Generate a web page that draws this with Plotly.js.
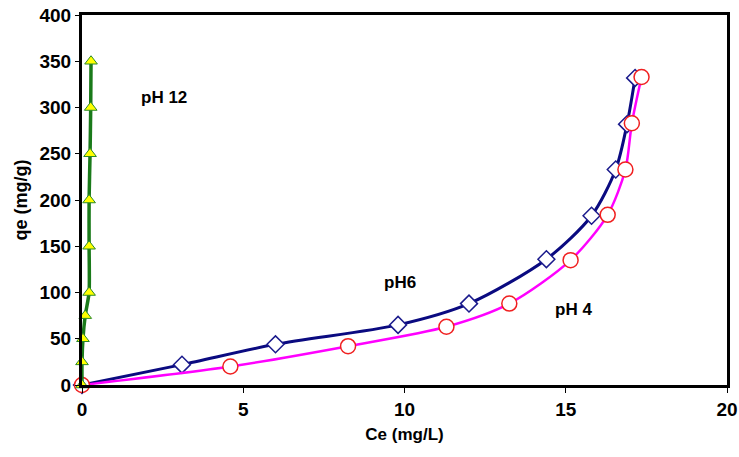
<!DOCTYPE html>
<html>
<head>
<meta charset="utf-8">
<script src="https://cdn.plot.ly/plotly-3.0.1.min.js"></script>
<style>html,body{margin:0;padding:0;background:#fff;}#chart{width:739px;height:457px;}</style>
</head>
<body>
<div id="chart"></div>
<script>
// pH 6 series (diamonds)
const ph6Ce = [0, 3.1, 6.0, 9.8, 12.0, 14.4, 15.8, 16.55, 16.9, 17.15];
const ph6Qe = [0, 22, 44, 65, 88, 136, 183, 233, 282, 332];
// pH 4 series (circles)
const ph4Ce = [0, 4.6, 8.25, 11.3, 13.25, 15.15, 16.3, 16.85, 17.05, 17.35];
const ph4Qe = [0, 20, 42, 63, 88, 135, 184, 233, 283, 333];
// pH 12 series (triangles)
const ph12Ce = [0, 0, 0.03, 0.1, 0.22, 0.22, 0.22, 0.25, 0.27, 0.28];
const ph12Qe = [0, 25, 50, 75, 100, 150, 200, 250, 300, 350];
// Tick labels
const xTicks = [0, 5, 10, 15, 20];
const yTicks = [0, 50, 100, 150, 200, 250, 300, 350, 400];
// Labels
const labelText = ['pH 12', 'pH6', 'pH 4'];
const labelX = [2.55, 9.85, 15.25];
const labelY = [311, 111, 82];

const font = 'Liberation Sans, Arial, sans-serif';
const bold = v => '<b>' + v + '</b>';

const traces = [
  {
    x: ph6Ce, y: ph6Qe, mode: 'lines+markers', name: 'pH6', cliponaxis: false,
    line: {color: '#0a0a80', width: 3, shape: 'spline', smoothing: 0.8},
    marker: {symbol: 'diamond', size: 13, color: '#ffffff', line: {color: '#1a1a8c', width: 1.5}}
  },
  {
    x: ph4Ce, y: ph4Qe, mode: 'lines+markers', name: 'pH 4', cliponaxis: false,
    line: {color: '#ff00ff', width: 2.5, shape: 'spline', smoothing: 0.8},
    marker: {symbol: 'circle', size: 15, color: '#ffffff', line: {color: '#f02020', width: 1.5}}
  },
  {
    x: ph12Ce, y: ph12Qe, mode: 'lines+markers', name: 'pH 12', cliponaxis: false,
    line: {color: '#1a7a1a', width: 3.5, shape: 'spline', smoothing: 0.6},
    marker: {symbol: 'triangle-up', size: 11, color: '#ffff00', line: {color: '#2a8a2a', width: 1}}
  }
];

const layout = {
  width: 739, height: 457,
  margin: {l: 82, r: 12, t: 15, b: 72},
  paper_bgcolor: '#ffffff', plot_bgcolor: '#ffffff',
  showlegend: false,
  font: {family: font, color: '#000000'},
  xaxis: {
    range: [0, 20], tickvals: xTicks, ticktext: xTicks.map(bold), showgrid: false, zeroline: false,
    showline: true, linecolor: '#000000', linewidth: 3, mirror: true,
    ticks: 'outside', ticklen: 5, tickwidth: 1, tickcolor: '#000000',
    tickfont: {family: font, size: 19, color: '#000000'},
    title: {text: bold('Ce (mg/L)'), font: {family: font, size: 17, color: '#000000'}, standoff: 10}
  },
  yaxis: {
    range: [0, 400], tickvals: yTicks, ticktext: yTicks.map(bold), showgrid: false, zeroline: false,
    showline: true, linecolor: '#000000', linewidth: 3, mirror: true,
    ticks: 'outside', ticklen: 4, tickwidth: 1, tickcolor: '#000000',
    tickfont: {family: font, size: 19, color: '#000000'},
    title: {text: bold('qe (mg/g)'), font: {family: font, size: 18, color: '#000000'}, standoff: 8}
  },
  annotations: labelText.map((t, i) => ({
    x: labelX[i], y: labelY[i], xref: 'x', yref: 'y', text: bold(t),
    showarrow: false, font: {family: font, size: 17, color: '#000000'}
  }))
};

Plotly.newPlot('chart', traces, layout, {displayModeBar: false, staticPlot: true});
</script>
</body>
</html>
